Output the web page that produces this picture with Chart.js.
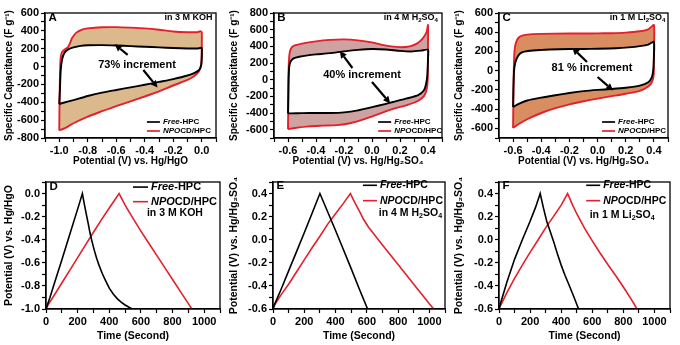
<!DOCTYPE html>
<html>
<head>
<meta charset="utf-8">
<script src="https://cdn.jsdelivr.net/npm/chart.js@4/dist/chart.umd.min.js"></script>
<style>
  html, body { margin: 0; padding: 0; background: #fff; }
  #wrap { position: relative; width: 680px; height: 345px; overflow: hidden; }
  canvas { position: absolute; }
</style>
</head>
<body>
<div id="wrap">
  <canvas id="cA" width="225" height="170" style="left:0;top:0"></canvas>
  <canvas id="cB" width="225" height="170" style="left:225px;top:0"></canvas>
  <canvas id="cC" width="230" height="170" style="left:450px;top:0"></canvas>
  <canvas id="cD" width="225" height="175" style="left:0;top:170px"></canvas>
  <canvas id="cE" width="225" height="175" style="left:225px;top:170px"></canvas>
  <canvas id="cF" width="230" height="175" style="left:450px;top:170px"></canvas>
</div>
<script>
// CV loops, [potential V, capacitance F/g]
const cvAFree = [[-1.0,-420],[-0.995,-250],[-0.99,-50],[-0.98,80],[-0.965,150],[-0.94,190],[-0.9,215],[-0.85,232],[-0.8,238],[-0.7,240],[-0.6,236],[-0.5,229],[-0.4,222],[-0.3,215],[-0.2,208],[-0.1,203],[-0.04,202],[-0.01,208],[0.0,212],[0.0,100],[-0.005,10],[-0.02,-40],[-0.05,-70],[-0.1,-100],[-0.2,-140],[-0.3,-172],[-0.4,-204],[-0.5,-233],[-0.6,-262],[-0.7,-292],[-0.8,-330],[-0.9,-375],[-0.97,-405],[-1.0,-420]]
const cvANpo = [[-1.0,-715],[-0.998,-400],[-0.995,-100],[-0.99,100],[-0.98,165],[-0.96,195],[-0.94,215],[-0.925,260],[-0.91,320],[-0.88,380],[-0.84,415],[-0.8,428],[-0.7,440],[-0.6,442],[-0.5,436],[-0.4,428],[-0.3,413],[-0.2,393],[-0.1,385],[-0.03,385],[-0.01,395],[0.0,385],[0.0,200],[-0.003,30],[-0.02,-55],[-0.06,-115],[-0.1,-150],[-0.2,-212],[-0.3,-278],[-0.4,-335],[-0.5,-390],[-0.6,-442],[-0.7,-500],[-0.8,-560],[-0.9,-635],[-0.96,-690],[-1.0,-715]]
const cvBFree = [[-0.6,-405],[-0.598,-200],[-0.595,50],[-0.59,170],[-0.58,220],[-0.56,255],[-0.52,275],[-0.46,292],[-0.4,303],[-0.3,318],[-0.2,340],[-0.1,358],[0.0,368],[0.1,362],[0.2,345],[0.28,338],[0.35,348],[0.4,360],[0.4,250],[0.395,50],[0.385,-60],[0.37,-130],[0.33,-185],[0.25,-225],[0.15,-268],[0.1,-290],[0.0,-330],[-0.1,-368],[-0.2,-392],[-0.3,-400],[-0.4,-400],[-0.5,-402],[-0.58,-405],[-0.6,-405]]
const cvBNpo = [[-0.6,-595],[-0.598,-300],[-0.596,100],[-0.59,300],[-0.58,370],[-0.56,405],[-0.5,432],[-0.4,460],[-0.3,477],[-0.2,483],[-0.1,472],[0.0,448],[0.1,408],[0.2,390],[0.27,400],[0.32,432],[0.36,490],[0.39,570],[0.4,655],[0.4,400],[0.398,0],[0.39,-120],[0.37,-200],[0.32,-262],[0.25,-305],[0.15,-350],[0.05,-410],[-0.05,-470],[-0.15,-520],[-0.25,-545],[-0.35,-552],[-0.45,-560],[-0.55,-580],[-0.6,-595]]
const cvCFree = [[-0.6,-378],[-0.598,-200],[-0.593,0],[-0.585,80],[-0.57,140],[-0.55,178],[-0.52,198],[-0.46,210],[-0.34,220],[-0.2,225],[-0.1,226],[0.0,228],[0.13,233],[0.22,242],[0.3,255],[0.36,272],[0.4,300],[0.4,150],[0.395,0],[0.385,-70],[0.36,-120],[0.3,-155],[0.2,-177],[0.1,-190],[0.0,-200],[-0.1,-213],[-0.2,-232],[-0.3,-255],[-0.4,-280],[-0.5,-310],[-0.56,-345],[-0.6,-378]]
const cvCNpo = [[-0.6,-595],[-0.598,-300],[-0.595,0],[-0.59,200],[-0.58,290],[-0.56,345],[-0.53,368],[-0.46,380],[-0.3,385],[-0.1,387],[0.0,388],[0.1,390],[0.2,396],[0.3,410],[0.36,430],[0.4,475],[0.4,200],[0.398,-50],[0.385,-120],[0.36,-165],[0.3,-210],[0.2,-240],[0.1,-265],[0.0,-290],[-0.1,-318],[-0.2,-350],[-0.3,-390],[-0.4,-440],[-0.5,-505],[-0.56,-555],[-0.6,-595]]

// charge/discharge curves, [time s, potential V]
const gcdDFree = [[0,-1.0],[25,-0.9],[50,-0.79],[100,-0.575],[150,-0.355],[200,-0.135],[230,0.0],[242,-0.09],[255,-0.18],[267,-0.26],[278,-0.34],[290,-0.41],[305,-0.49],[320,-0.56],[335,-0.62],[355,-0.69],[375,-0.75],[400,-0.82],[425,-0.87],[450,-0.91],[475,-0.94],[500,-0.965],[525,-0.985],[545,-1.0]]
const gcdDNpo = [[0,-1.0],[15,-0.96],[50,-0.885],[100,-0.775],[150,-0.665],[200,-0.555],[250,-0.445],[300,-0.335],[350,-0.228],[400,-0.125],[462,0.0],[500,-0.1],[550,-0.215],[600,-0.325],[650,-0.43],[700,-0.535],[750,-0.64],[800,-0.745],[850,-0.85],[900,-0.953],[922,-1.0]]
const gcdEFree = [[0,-0.6],[10,-0.56],[50,-0.435],[100,-0.27],[150,-0.105],[200,0.06],[250,0.23],[300,0.4],[350,0.24],[400,0.08],[450,-0.085],[500,-0.25],[550,-0.42],[605,-0.6]]
const gcdENpo = [[0,-0.6],[10,-0.565],[50,-0.48],[100,-0.385],[150,-0.28],[200,-0.175],[250,-0.07],[300,0.03],[350,0.135],[400,0.225],[450,0.315],[495,0.4],[520,0.33],[550,0.255],[580,0.175],[610,0.11],[650,0.04],[700,-0.045],[800,-0.215],[900,-0.385],[1000,-0.555],[1028,-0.6]]
const gcdFFree = [[0,-0.6],[10,-0.55],[50,-0.37],[100,-0.17],[150,0.0],[200,0.16],[235,0.28],[265,0.4],[285,0.28],[307,0.16],[330,0.07],[350,-0.01],[375,-0.12],[400,-0.22],[425,-0.31],[450,-0.39],[480,-0.49],[512,-0.6]]
const gcdFNpo = [[0,-0.6],[10,-0.57],[50,-0.46],[100,-0.335],[150,-0.22],[200,-0.11],[250,-0.005],[308,0.12],[350,0.2],[400,0.3],[441,0.4],[470,0.31],[500,0.225],[550,0.1],[600,-0.01],[650,-0.115],[700,-0.215],[750,-0.31],[800,-0.41],[850,-0.515],[888,-0.6]]

// arrows, [x1, y1, x2, y2] in data units
const arrowsA = [[-0.52,130,-0.61,250],[-0.41,-38,-0.31,-235]]
const arrowsB = [[-0.14,140,-0.23,345],[0.0,-28,0.13,-285]]
const arrowsC = [[-0.075,90,-0.18,238],[0.0,-66,0.11,-205]]

const RED = '#e3202b'
const BLACK = '#000000'
const FONT = "'Liberation Sans', Arial, sans-serif"

Chart.defaults.font.family = FONT
Chart.defaults.font.weight = 'bold'
Chart.defaults.color = '#000'

const FREE = [{ t: 'Free', i: true }, { t: '-HPC' }]
const NPO = [{ t: 'NPO', i: true }, { t: 'CD/HPC' }]

function isMajor(v, m) {
    const q = v / m
    return Math.abs(q - Math.round(q)) < 1e-6
}

function axis(o) {
    return {
        type: 'linear',
        min: o.min,
        max: o.max,
        ticks: {
            stepSize: o.step,
            maxTicksLimit: 200,
            autoSkip: false,
            maxRotation: 0,
            padding: 2,
            color: '#000',
            font: { size: 11, weight: 'bold' },
            callback: v => isMajor(v, o.major) ? (o.dec ? (Math.round(v * 10) / 10).toFixed(o.dec) : String(Math.round(v))) : ''
        },
        grid: { drawOnChartArea: false, tickLength: 4, tickColor: '#000', tickWidth: 1.2 },
        border: { color: '#000', width: 1.3 },
        title: { display: true, text: o.title, color: '#000', font: { size: o.tsize, weight: 'bold' }, padding: { top: 3, bottom: 3 } },
        afterFit: o.fit
    }
}

function ds(points, color, w, tension) {
    return {
        data: points.map(p => ({ x: p[0], y: p[1] })),
        borderColor: color,
        borderWidth: w,
        pointRadius: 0,
        showLine: true,
        fill: false,
        tension: tension
    }
}

function rich(ctx, parts, x, y, size, align) {
    const fonts = parts.map(p => (p.i ? 'italic ' : '') + 'bold ' + (p.sub ? size * 0.68 : size) + 'px ' + FONT)
    let total = 0
    const widths = parts.map((p, k) => { ctx.font = fonts[k]; const w = ctx.measureText(p.t).width; total += w; return w })
    if (align === 'right') x -= total
    if (align === 'center') x -= total / 2
    ctx.textBaseline = 'middle'
    ctx.textAlign = 'left'
    ctx.fillStyle = '#000'
    parts.forEach((p, k) => {
        ctx.font = fonts[k]
        ctx.fillText(p.t, x, y + (p.sub ? size * 0.3 : 0))
        x += widths[k]
    })
}

function arrow(ctx, x1, y1, x2, y2) {
    const ang = Math.atan2(y2 - y1, x2 - x1), hl = 7, hw = 3.5
    const bx = x2 - hl * Math.cos(ang), by = y2 - hl * Math.sin(ang)
    ctx.strokeStyle = '#000'
    ctx.lineWidth = 2.2
    ctx.beginPath(); ctx.moveTo(x1, y1); ctx.lineTo(bx, by); ctx.stroke()
    ctx.fillStyle = '#000'
    ctx.beginPath()
    ctx.moveTo(x2, y2)
    ctx.lineTo(bx + hw * Math.sin(ang), by - hw * Math.cos(ang))
    ctx.lineTo(bx - hw * Math.sin(ang), by + hw * Math.cos(ang))
    ctx.closePath(); ctx.fill()
}

// fills the red loop, then blanks out the black loop
function loopFill(color) {
    return {
        id: 'loopFill',
        beforeDatasetsDraw(chart) {
            if (!color) return
            const ctx = chart.ctx, area = chart.chartArea
            ctx.save()
            ctx.beginPath(); ctx.rect(area.left, area.top, area.width, area.height); ctx.clip()
            ;[[1, color], [0, '#ffffff']].forEach(([i, c]) => {
                const pts = chart.getDatasetMeta(i).data
                const line = chart.getDatasetMeta(i).dataset
                ctx.beginPath()
                try {
                    line.updateControlPoints(area, 'x')
                    line.path(ctx)
                } catch (e) {
                    pts.forEach((p, k) => k ? ctx.lineTo(p.x, p.y) : ctx.moveTo(p.x, p.y))
                }
                ctx.closePath()
                ctx.fillStyle = c
                ctx.fill()
            })
            ctx.restore()
        }
    }
}

function notes(n) {
    return {
        id: 'notes',
        afterDatasetsDraw(chart) {
            const ctx = chart.ctx, a = chart.chartArea, xs = chart.scales.x, ys = chart.scales.y
            const px = f => a.left + f * (a.right - a.left)
            const py = f => a.top + f * (a.bottom - a.top)
            ctx.save()
            ctx.strokeStyle = '#000'
            ctx.lineWidth = 1.3
            ctx.strokeRect(a.left, a.top, a.right - a.left, a.bottom - a.top)
            rich(ctx, [{ t: n.letter }], px(n.letterAt[0]), py(n.letterAt[1]), 11.5, 'left')
            if (n.medium) rich(ctx, n.medium, px(n.mediumAt[0]), py(n.mediumAt[1]), n.mediumSize, n.mediumAlign)
            if (n.inc) rich(ctx, [{ t: n.inc }], px(n.incAt[0]), py(n.incAt[1]), 11, 'center')
            ;(n.arrows || []).forEach(r => arrow(ctx, xs.getPixelForValue(r[0]), ys.getPixelForValue(r[1]), xs.getPixelForValue(r[2]), ys.getPixelForValue(r[3])))
            const L = n.legend
            ;[[BLACK, FREE], [RED, NPO]].forEach(([col, parts], k) => {
                const y = py(L.fy[k]), x0 = px(L.fx)
                ctx.strokeStyle = col
                ctx.lineWidth = L.lw
                ctx.beginPath(); ctx.moveTo(x0, y); ctx.lineTo(x0 + L.len, y); ctx.stroke()
                rich(ctx, parts, x0 + L.len + L.gap, y, L.size, 'left')
            })
            ctx.restore()
        }
    }
}

function makePanel(id, c) {
    return new Chart(document.getElementById(id), {
        type: 'scatter',
        data: { datasets: [ds(c.free, BLACK, c.lw, c.tension), ds(c.npo, RED, c.lw, c.tension)] },
        options: {
            responsive: false,
            animation: false,
            layout: { padding: { top: c.area.top, right: c.area.right, left: 0, bottom: 0 } },
            scales: {
                x: axis(Object.assign({}, c.x, { fit: s => { s.height = c.area.xh } })),
                y: axis(Object.assign({}, c.y, { fit: s => { s.width = c.area.yw } }))
            },
            plugins: { legend: { display: false }, tooltip: { enabled: false } }
        },
        plugins: [loopFill(c.fill), notes(c.notes)]
    })
}

const capTitle = 'Specific Capacitance (F g\u207B\u00B9)'
const hgso = 'Potential (V) vs. Hg/Hg\u2082SO\u2084'
const cvLegend = { fy: [0.872, 0.944], len: 13, gap: 3, lw: 1.7, size: 8 }

makePanel('cA', {
    free: cvAFree, npo: cvANpo, lw: 1.9, tension: 0.2, fill: '#dbb98c',
    area: { top: 13, right: 9, yw: 45, xh: 32 },
    x: { min: -1.1, max: 0.1, step: 0.1, major: 0.2, dec: 1, title: 'Potential (V) vs. Hg/HgO', tsize: 10 },
    y: { min: -800, max: 600, step: 100, major: 200, title: capTitle, tsize: 10 },
    notes: {
        letter: 'A', letterAt: [0.02, 0.035],
        medium: [{ t: 'in 3 M KOH' }], mediumAt: [0.98, 0.035], mediumSize: 9, mediumAlign: 'right',
        inc: '73% increment', incAt: [0.538, 0.416], arrows: arrowsA,
        legend: Object.assign({ fx: 0.596 }, cvLegend)
    }
})

makePanel('cB', {
    free: cvBFree, npo: cvBNpo, lw: 1.9, tension: 0.2, fill: '#cfa2a2',
    area: { top: 13, right: 8, yw: 49, xh: 32 },
    x: { min: -0.7, max: 0.5, step: 0.1, major: 0.2, dec: 1, title: hgso, tsize: 10 },
    y: { min: -700, max: 800, step: 100, major: 200, title: capTitle, tsize: 10 },
    notes: {
        letter: 'B', letterAt: [0.02, 0.035],
        medium: [{ t: 'in 4 M H' }, { t: '2', sub: true }, { t: 'SO' }, { t: '4', sub: true }], mediumAt: [0.976, 0.035], mediumSize: 9, mediumAlign: 'right',
        inc: '40% increment', incAt: [0.524, 0.496], arrows: arrowsB,
        legend: Object.assign({ fx: 0.62 }, cvLegend)
    }
})

makePanel('cC', {
    free: cvCFree, npo: cvCNpo, lw: 1.9, tension: 0.2, fill: '#d98e62',
    area: { top: 13, right: 12, yw: 49, xh: 32 },
    x: { min: -0.7, max: 0.5, step: 0.1, major: 0.2, dec: 1, title: hgso, tsize: 10 },
    y: { min: -700, max: 600, step: 100, major: 200, title: capTitle, tsize: 10 },
    notes: {
        letter: 'C', letterAt: [0.02, 0.035],
        medium: [{ t: 'in 1 M Li' }, { t: '2', sub: true }, { t: 'SO' }, { t: '4', sub: true }], mediumAt: [0.985, 0.035], mediumSize: 9, mediumAlign: 'right',
        inc: '81 % increment', incAt: [0.55, 0.44], arrows: arrowsC,
        legend: Object.assign({ fx: 0.61 }, cvLegend)
    }
})

makePanel('cD', {
    free: gcdDFree, npo: gcdDNpo, lw: 1.6, tension: 0,
    area: { top: 12, right: 5, yw: 46, xh: 36 },
    x: { min: 0, max: 1100, step: 100, major: 200, title: 'Time (Second)', tsize: 10.5 },
    y: { min: -1.0, max: 0.1, step: 0.1, major: 0.2, dec: 1, title: 'Potential (V) vs. Hg/HgO', tsize: 10.5 },
    notes: {
        letter: 'D', letterAt: [0.02, 0.04],
        medium: [{ t: 'in 3 M KOH' }], mediumAt: [0.58, 0.244], mediumSize: 10.5, mediumAlign: 'left',
        legend: { fx: 0.5, fy: [0.04, 0.155], len: 15, gap: 3, lw: 1.6, size: 11 }
    }
})

makePanel('cE', {
    free: gcdEFree, npo: gcdENpo, lw: 1.6, tension: 0,
    area: { top: 12, right: 5, yw: 48, xh: 36 },
    x: { min: 0, max: 1100, step: 100, major: 200, title: 'Time (Second)', tsize: 10.5 },
    y: { min: -0.6, max: 0.5, step: 0.1, major: 0.2, dec: 1, title: hgso, tsize: 10.5 },
    notes: {
        letter: 'E', letterAt: [0.02, 0.03],
        medium: [{ t: 'in 4 M H' }, { t: '2', sub: true }, { t: 'SO' }, { t: '4', sub: true }], mediumAt: [0.615, 0.242], mediumSize: 10.5, mediumAlign: 'left',
        legend: { fx: 0.523, fy: [0.026, 0.147], len: 14, gap: 3, lw: 1.6, size: 10.5 }
    }
})

makePanel('cF', {
    free: gcdFFree, npo: gcdFNpo, lw: 1.6, tension: 0,
    area: { top: 12, right: 10, yw: 49, xh: 36 },
    x: { min: 0, max: 1100, step: 100, major: 200, title: 'Time (Second)', tsize: 10.5 },
    y: { min: -0.6, max: 0.5, step: 0.1, major: 0.2, dec: 1, title: hgso, tsize: 10.5 },
    notes: {
        letter: 'F', letterAt: [0.02, 0.03],
        medium: [{ t: 'in 1 M Li' }, { t: '2', sub: true }, { t: 'SO' }, { t: '4', sub: true }], mediumAt: [0.53, 0.26], mediumSize: 10.5, mediumAlign: 'left',
        legend: { fx: 0.51, fy: [0.026, 0.147], len: 14, gap: 3, lw: 1.6, size: 10.5 }
    }
})
</script>
</body>
</html>
